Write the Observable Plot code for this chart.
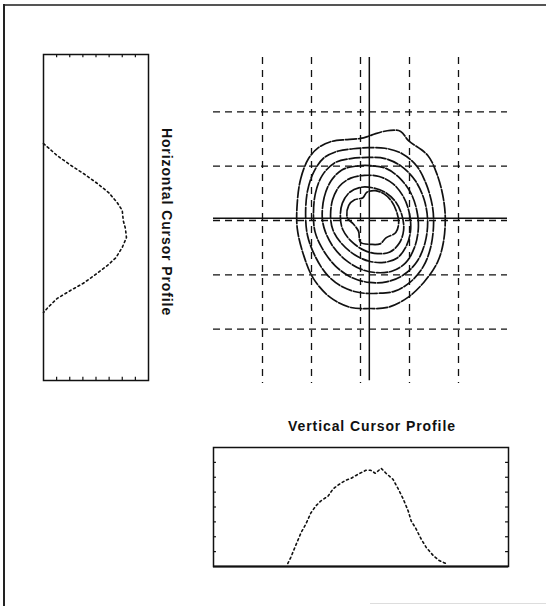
<!DOCTYPE html>
<html><head><meta charset="utf-8">
<script src="https://cdn.jsdelivr.net/npm/d3@7"></script>
<script src="https://cdn.jsdelivr.net/npm/@observablehq/plot@0.6"></script>
<style>
html,body{margin:0;padding:0;background:#fff;}
#page{position:relative;width:546px;height:606px;overflow:hidden;background:#fff;font-family:"Liberation Sans",Arial,sans-serif;}
.abs{position:absolute;}
.title{font-weight:bold;font-size:14px;letter-spacing:0.9px;color:#111;white-space:nowrap;line-height:1;}
</style></head><body>
<div id="page">
 <div class="abs" style="left:5px;top:4px;width:541px;height:2px;background:#555"></div>
 <div class="abs" style="left:3px;top:4px;width:2px;height:602px;background:#222"></div>
 <div class="abs" style="left:370px;top:603px;width:176px;height:1px;background:#ddd"></div>
 <div id="hp" class="abs" style="left:40px;top:51px"></div>
 <div id="ct" class="abs" style="left:210px;top:54px"></div>
 <div id="vp" class="abs" style="left:210px;top:444px"></div>
 <div class="abs title" style="left:167px;top:222px;transform:translate(-50%,-50%) rotate(90deg)">Horizontal Cursor Profile</div>
 <div class="abs title" style="left:372px;top:426px;transform:translate(-50%,-50%)">Vertical Cursor Profile</div>
</div>
<script>
// ---- contour map data (position units, grid spacing 10) ----
const gridX = [-20, -10, 0, 10, 20];
const gridY = [-20, -10, 0, 10, 20];
const cursorX = 1.8;
const cursorY = 0.4;

const ring1 = [[-12.9,3.3],[-12.2,7.7],[-10.6,11.4],[-8.6,13.4],[-6.1,14.5],[-2.7,14.9],[0,15.1],[1.6,15.5],[3.1,16.0],[6.1,16.6],[8.2,16.4],[9.8,14.7],[13.7,12.0],[15.7,8.3],[16.9,4.1],[17.3,0.4],[16.9,-4.1],[15.7,-7.7],[12.9,-11.4],[9.6,-14.2],[5.5,-16.0],[2.0,-16.2],[-2.0,-16.0],[-6.1,-14.2],[-9.6,-10.7],[-11.6,-6.4],[-12.9,-1.5]];
const ring2 = [[-11.2,1],[-10.8,5.5],[-9.5,9],[-7.5,11.5],[-4.5,12.8],[-1.5,13.2],[1.5,13.4],[5,13.3],[8.5,12.3],[11.5,10],[13.5,6.5],[14.7,2.5],[14.9,-1],[14.3,-5],[12.8,-8.5],[10.2,-11.3],[7,-13],[3.5,-13.4],[0,-13.3],[-3.5,-12.3],[-6.8,-10],[-9.3,-6.5],[-10.8,-2.8]];
const ring3 = [[-9.6,1],[-9.2,5],[-7.8,8.3],[-5.3,10.6],[-2,11.4],[1.5,11.6],[5,11.4],[8.3,10],[11.2,7.3],[13,3.8],[13.7,0],[13.2,-4],[11.5,-7.6],[8.8,-10],[5.3,-11.3],[1.8,-11.4],[-1.8,-10.5],[-5.2,-8.3],[-7.9,-5],[-9.3,-2]];
const ring4 = [[-7.8,0.5],[-7.4,4.3],[-6,7.3],[-3.8,9.3],[-1,10],[2,10.1],[5.2,9.6],[8,7.8],[10.3,5],[11.5,1.8],[11.8,-1.5],[11,-5],[9.2,-7.8],[6.5,-9.3],[3.3,-9.6],[0.2,-9],[-3,-7.3],[-5.6,-4.8],[-7.2,-2]];
const ring5 = [[-6.1,0.5],[-5.7,3.8],[-4.3,6.3],[-2,7.8],[0.8,8.3],[3.8,8.1],[6.6,6.8],[8.8,4.3],[10,1.2],[10.2,-2],[9.3,-4.8],[7.5,-6.9],[4.8,-7.7],[1.8,-7.5],[-1.2,-6.3],[-3.9,-4.2],[-5.6,-1.8]];
const ring6 = [[-4.1,0.5],[-3.7,3.2],[-2.2,5.2],[0,6.1],[2.6,6.0],[5,5.2],[7.2,3.4],[8.5,0.8],[8.8,-1.8],[7.9,-4.2],[6,-5.8],[3.5,-6.1],[0.8,-5.5],[-1.8,-3.9],[-3.6,-1.7]];
const ring7 = [[-2.7,0.5],[-2.4,2.8],[-1.2,3.8],[0.5,4.2],[1.3,5.2],[3.0,5.5],[4.8,4.9],[6.3,3.6],[7.3,1.8],[7.8,-0.3],[7.2,-2.2],[5.2,-3.2],[4.0,-4.3],[2.2,-4.4],[0.0,-4.0],[-0.4,-2.0],[-1.5,-0.6]];
const rings = [ring1, ring2, ring3, ring4, ring5, ring6, ring7];

// ---- horizontal cursor profile (drawn vertically) ----
const hProfilePos = [13.6, 11.4, 9.6, 8.1, 6.3, 4.6, 2.8, 1.3, -0.6, -2.0, -3.7, -5.5, -7.4, -8.8, -10.3, -12.1, -13.4, -14.9, -16.6, -17.5];
const hProfileVal = [0, 13, 26, 38, 51, 62, 70, 75, 76, 78, 79, 75, 69, 61, 51, 38, 26, 13, 4, 0];
const hTicks = [12.5, 25, 37.5, 50, 62.5, 75, 87.5];

// ---- vertical cursor profile ----
const vProfilePos = [-14.9, -14.3, -13.3, -12.2, -11.2, -10.2, -9.2, -8.2, -6.7, -5.7, -4.7, -3.1, -2.0, -0.6, 1.0, 2.0, 2.9, 4.1, 5.1, 6.5, 7.6, 8.6, 9.6, 10.2, 11.2, 12.2, 13.3, 14.7, 15.9, 17.3];
const vProfileVal = [3, 9, 21, 34, 43, 54, 61, 66, 71, 78, 82, 87, 89, 93, 97, 97, 94, 99, 94, 88, 78, 68, 56, 46, 38, 28, 19, 11, 6, 3];
const vTicks = [15, 30, 45, 60, 75, 90, 105];

const ink = "#111";
const svgStyle = {background: "transparent", overflow: "visible"};

// contour map
const contourTable = rings.flatMap((r, i) => r.map(([x, y]) => ({ring: i, x, y})));
const contour = Plot.plot({
  width: 300, height: 332,
  marginTop: 3, marginBottom: 3, marginLeft: 3, marginRight: 3,
  style: svgStyle,
  x: {domain: [-30, 30], axis: null},
  y: {domain: [-30, 30], axis: null},
  marks: [
    Plot.ruleX(gridX, {x: d => d, stroke: ink, strokeWidth: 1.3, strokeDasharray: "7,6"}),
    Plot.ruleY(gridY, {y: d => d, stroke: ink, strokeWidth: 1.3, strokeDasharray: "7,5"}),
    Plot.ruleX([cursorX], {x: d => d, y1: -29.5, y2: 30, stroke: ink, strokeWidth: 1.5}),
    Plot.ruleY([cursorY], {y: d => d, stroke: ink, strokeWidth: 1.5}),
    Plot.line(contourTable, {x: "x", y: "y", z: "ring", curve: "catmull-rom-closed", stroke: ink, strokeWidth: 1.7, strokeDasharray: "11,2"})
  ]
});
document.getElementById("ct").appendChild(contour);

// horizontal profile (left)
const hTable = hProfilePos.map((p, i) => ({pos: p, val: hProfileVal[i]}));
const hp = Plot.plot({
  width: 111, height: 332,
  marginTop: 3, marginBottom: 3, marginLeft: 3, marginRight: 3,
  style: svgStyle,
  x: {domain: [0, 100], axis: null},
  y: {domain: [-30, 30], axis: null},
  marks: [
    Plot.frame({stroke: ink, strokeWidth: 1.5}),
    Plot.ruleY([0], {y: d => d, x1: 0, x2: 0, y1: -30, y2: 30, stroke: ink, strokeWidth: 2}),
    Plot.ruleX(hTicks, {x: d => d, y1: 30, y2: 29.4, stroke: ink, strokeWidth: 1.2}),
    Plot.ruleX(hTicks, {x: d => d, y1: -30, y2: -29.4, stroke: ink, strokeWidth: 1.2}),
    Plot.line(hTable, {x: "val", y: "pos", stroke: ink, strokeWidth: 1.6, strokeDasharray: "2,3"})
  ]
});
document.getElementById("hp").appendChild(hp);

// vertical profile (bottom)
const vTable = vProfilePos.map((p, i) => ({pos: p, val: vProfileVal[i]}));
const vp = Plot.plot({
  width: 301, height: 125,
  marginTop: 3, marginBottom: 3, marginLeft: 3, marginRight: 3,
  style: svgStyle,
  x: {domain: [-30, 30], axis: null},
  y: {domain: [0, 120], axis: null},
  marks: [
    Plot.frame({stroke: ink, strokeWidth: 1.5}),
    Plot.ruleY([0], {y: d => d, stroke: ink, strokeWidth: 2}),
    Plot.ruleY(vTicks, {y: d => d, x1: -30, x2: -29.4, stroke: ink, strokeWidth: 1.2}),
    Plot.ruleY(vTicks, {y: d => d, x1: 30, x2: 29.4, stroke: ink, strokeWidth: 1.2}),
    Plot.line(vTable, {x: "pos", y: "val", stroke: ink, strokeWidth: 1.6, strokeDasharray: "2,3"})
  ]
});
document.getElementById("vp").appendChild(vp);
</script>
</body></html>
